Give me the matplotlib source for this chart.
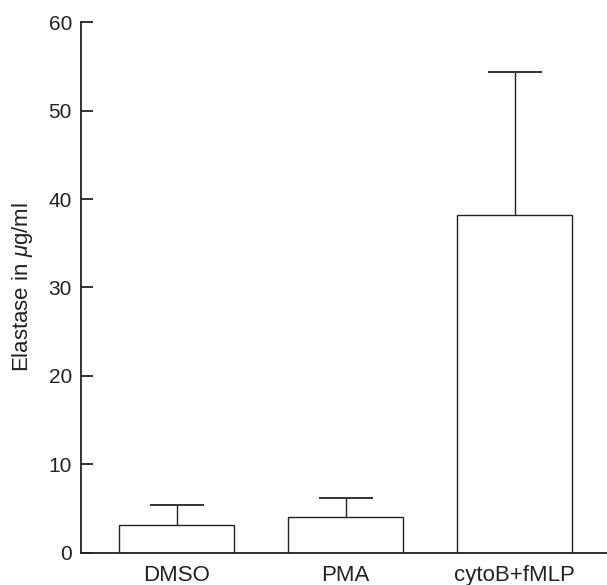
import matplotlib
matplotlib.use("Agg")
import matplotlib.pyplot as plt
import numpy as np

categories = ["DMSO", "PMA", "cytoB+fMLP"]
means = [3.17, 4.0, 38.2]
upper_err = [2.19, 2.22, 16.2]
yticks = [0, 10, 20, 30, 40, 50, 60]

plt.rcParams['font.family'] = ['Liberation Sans', 'DejaVu Sans']
plt.rcParams['mathtext.fontset'] = 'custom'
plt.rcParams['mathtext.rm'] = 'Liberation Sans'
plt.rcParams['mathtext.it'] = 'Liberation Sans:italic'

fig = plt.figure(figsize=(6.07, 5.85), dpi=100)
ax = fig.add_axes([0.1334, 0.0552, 0.8666, 0.9067])

x = np.arange(len(categories))
lc = '#222222'
ax.bar(x, means, width=0.68, color='white', edgecolor=lc, linewidth=1.0, zorder=2)
eb = ax.errorbar(x, means, yerr=[np.zeros(len(means)), upper_err], fmt='none',
                 ecolor=lc, elinewidth=1.0, capsize=19.5, capthick=1.3, zorder=1)
eb[1][0].set_visible(False)

ax.set_xlim(-0.566, 2.546)
ax.set_ylim(0, 60)
ax.set_yticks(yticks)
ax.set_xticks(x)
ax.set_xticklabels(categories)
for s in ['top', 'right']:
    ax.spines[s].set_visible(False)
for s in ['left', 'bottom']:
    ax.spines[s].set_linewidth(1.3)
    ax.spines[s].set_color(lc)
ax.tick_params(axis='y', direction='in', length=8.6, width=1.3, color=lc,
               labelsize=15, pad=6.5, labelcolor='#222222')
ax.tick_params(axis='x', length=0, labelsize=16, pad=8.5, labelcolor='#222222')
ax.set_ylabel(r'Elastase in $\mu$g/ml', fontsize=16, color='#222222', labelpad=10)

fig.savefig('out.png', dpi=100)
